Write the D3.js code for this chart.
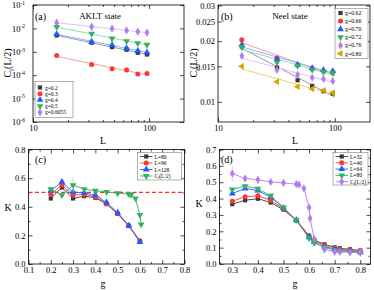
<!DOCTYPE html>
<html>
<head>
<meta charset="utf-8">
<script src="https://cdn.jsdelivr.net/npm/d3@7"></script>
<style>
  body { margin: 0; background: #fff; }
  text { font-family: "Liberation Serif", "Times New Roman", serif; fill: #000; }
</style>
</head>
<body>
<script>
// ---------- data ----------
// (a) AKLT state, C_l(L/2) vs L
const sizesA = [16, 32, 48, 64, 80, 96];
const labelsA = ["g=0.2", "g=0.3", "g=0.4", "g=0.5", "g=0.6055"];
const akltG02 = [0.0050, 0.00245, 0.00159, 0.00123, 0.00091, 0.00077];
const akltG03 = [0.00070, 0.000286, 0.000188, 0.000166, 0.000112, 0.000118];
const akltG04 = [0.0057, 0.0027, 0.00193, 0.00144, 0.00111, 0.00094];
const akltG05 = [0.0114, 0.0059, 0.0037, 0.00286, 0.00235, 0.00201];
const akltG06055 = [0.0175, 0.0118, 0.0097, 0.0082, 0.0072, 0.0066];

// (b) Neel state
const sizesB = [16, 32, 48, 64, 80, 96];
const labelsB = ["g=0.62", "g=0.66", "g=0.70", "g=0.72", "g=0.76", "g=0.80"];
const neelG062 = [0.0188, 0.0148, 0.0128, 0.0120, 0.0113, 0.0110];
const neelG066 = [0.0203, 0.0165, 0.0152, 0.0146, 0.0142, 0.0140];
const neelG070 = [0.0192, 0.0163, 0.0153, 0.0147, 0.0144, 0.0142];
const neelG072 = [0.0187, 0.0157, 0.0151, 0.0144, 0.0141, 0.0139];
const neelG076 = [0.0169, 0.0144, 0.0136, 0.0132, 0.0130, 0.0127];
const neelG080 = [0.0150, 0.0126, 0.0119, 0.0116, 0.0114, 0.0111];

// (c) K vs g, AKLT side
const gC = [0.2, 0.25, 0.3, 0.35, 0.4, 0.45, 0.5, 0.55, 0.6];
const kcL80 = [0.458, 0.535, 0.458, 0.474, 0.463, 0.419, 0.351, 0.267, 0.158];
const kcL96 = [0.488, 0.551, 0.481, 0.486, 0.470, 0.421, 0.353, 0.267, 0.163];
const kcL128 = [0.512, 0.574, 0.502, 0.498, 0.481, 0.430, 0.358, 0.268, 0.153];
const gCc = [0.2, 0.25, 0.3, 0.35, 0.4, 0.45, 0.5, 0.55, 0.56, 0.58, 0.6, 0.6055];
const kcCl = [0.523, 0.481, 0.551, 0.523, 0.512, 0.503, 0.495, 0.488, 0.484, 0.458, 0.343, 0.277];
const kcClErr = [0, 0, 0.05, 0, 0, 0, 0, 0, 0, 0, 0, 0];

// (d) K vs g, Neel side
const gD = [0.3, 0.35, 0.4, 0.45, 0.5, 0.55, 0.6, 0.62, 0.66, 0.7, 0.72, 0.76, 0.8];
const kdL32 = [0.366, 0.390, 0.399, 0.376, 0.332, 0.268, 0.173, 0.146, 0.120, 0.102, 0.096, 0.090, 0.082];
const kdL40 = [0.384, 0.411, 0.417, 0.390, 0.336, 0.268, 0.171, 0.146, 0.116, 0.100, 0.092, 0.087, 0.080];
const kdL64 = [0.431, 0.462, 0.449, 0.409, 0.342, 0.268, 0.163, 0.136, 0.106, 0.092, 0.083, 0.079, 0.072];
const kdL80 = [0.456, 0.476, 0.460, 0.417, 0.346, 0.268, 0.157, 0.130, 0.102, 0.085, 0.079, 0.075, 0.068];
const gDc = [0.3, 0.35, 0.4, 0.45, 0.5, 0.55, 0.56, 0.58, 0.6, 0.604, 0.62, 0.66, 0.7, 0.72, 0.76, 0.8];
const kdCl = [0.553, 0.523, 0.515, 0.502, 0.496, 0.488, 0.486, 0.462, 0.346, 0.279, 0.153, 0.089, 0.075, 0.075, 0.071, 0.073];
const kdClErr = [0.05, 0, 0, 0, 0, 0, 0, 0, 0, 0, 0, 0, 0, 0, 0, 0];

// ---------- styles ----------
const col = {
  black: "#3a3a3a", red: "#ff3636", blue: "#1f5cff",
  green: "#2fb35f", purple: "#b37cf2", gold: "#d9a400"
};
const fitCol = {
  black: "#9a9a9a", red: "#ff9d9d", blue: "#8fb0ff",
  green: "#95dcae", purple: "#dcc4fa", gold: "#ecd27a"
};
const shapes = {
  square: { type: d3.symbolSquare, size: 18, rot: 0 },
  circle: { type: d3.symbolCircle, size: 20, rot: 0 },
  up: { type: d3.symbolTriangle, size: 20, rot: 0 },
  down: { type: d3.symbolTriangle, size: 20, rot: 180 },
  diamond: { type: d3.symbolDiamond, size: 20, rot: 0 },
  left: { type: d3.symbolTriangle, size: 20, rot: -90 }
};

const svg = d3.select("body").append("svg").attr("width", 374).attr("height", 290);

function marker(g, x, y, shape, color) {
  let s = shapes[shape];
  g.append("path")
    .attr("d", d3.symbol().type(s.type).size(s.size)())
    .attr("transform", `translate(${x},${y}) rotate(${s.rot})`)
    .attr("fill", color);
}

function frame(x, y) {
  let [x0, x1] = x.range();
  let [y0, y1] = y.range();
  svg.append("rect")
    .attr("x", x0).attr("y", y1)
    .attr("width", x1 - x0).attr("height", y0 - y1)
    .attr("fill", "none").attr("stroke", "#000").attr("stroke-width", 0.8);
}

function ticks(x, y, xMajor, xMinor, yMajor, yMinor, xFmt, yFmt) {
  let [x0, x1] = x.range();
  let [y0, y1] = y.range();
  let fixAxis = (g) => {
    g.select(".domain").remove();
    g.selectAll("line").attr("stroke", "#000").attr("stroke-width", 0.7);
    g.selectAll("text").style("font-family", '"Liberation Serif", serif').style("font-size", "8.5px");
  };
  svg.append("g").attr("transform", `translate(0,${y0})`)
    .call(d3.axisBottom(x).tickValues(xMajor).tickSize(-4).tickPadding(3).tickFormat(xFmt)).call(fixAxis);
  svg.append("g").attr("transform", `translate(0,${y0})`)
    .call(d3.axisBottom(x).tickValues(xMinor).tickSize(-2).tickFormat("")).call(fixAxis);
  svg.append("g").attr("transform", `translate(0,${y1})`)
    .call(d3.axisTop(x).tickValues(xMajor).tickSize(-4).tickFormat("")).call(fixAxis);
  svg.append("g").attr("transform", `translate(0,${y1})`)
    .call(d3.axisTop(x).tickValues(xMinor).tickSize(-2).tickFormat("")).call(fixAxis);
  let ly = svg.append("g").attr("transform", `translate(${x0},0)`)
    .call(d3.axisLeft(y).tickValues(yMajor).tickSize(-4).tickPadding(3).tickFormat(yFmt)).call(fixAxis);
  svg.append("g").attr("transform", `translate(${x0},0)`)
    .call(d3.axisLeft(y).tickValues(yMinor).tickSize(-2).tickFormat("")).call(fixAxis);
  svg.append("g").attr("transform", `translate(${x1},0)`)
    .call(d3.axisRight(y).tickValues(yMajor).tickSize(-4).tickFormat("")).call(fixAxis);
  svg.append("g").attr("transform", `translate(${x1},0)`)
    .call(d3.axisRight(y).tickValues(yMinor).tickSize(-2).tickFormat("")).call(fixAxis);
  return ly;
}

function clLabel(sel, size) {
  sel.append("tspan").text("C");
  sel.append("tspan").text("l").attr("font-size", size * 0.7).attr("dy", size * 0.25);
  sel.append("tspan").text("(L/2)").attr("dy", -size * 0.25);
}

function yTitle(x, y, size, fn) {
  let t = svg.append("text").attr("transform", `translate(${x},${y}) rotate(-90)`)
    .attr("text-anchor", "middle").attr("font-size", size);
  fn(t);
}

function fitLine(xs, ys) {
  let lx = xs.map(Math.log10), ly = ys.map(Math.log10);
  let mx = d3.mean(lx), my = d3.mean(ly);
  let slope = d3.sum(lx, (v, i) => (v - mx) * (ly[i] - my)) / d3.sum(lx, (v) => (v - mx) * (v - mx));
  let b = my - slope * mx;
  return (L) => Math.pow(10, b + slope * Math.log10(L));
}

// ---------- panel (a) ----------
let xA = d3.scaleLog().domain([10, 200]).range([33, 184]);
let yA = d3.scaleLog().domain([1e-6, 1e-1]).range([122, 5]);
let seriesA = [
  [akltG02, "black", "square"], [akltG03, "red", "circle"], [akltG04, "blue", "up"],
  [akltG05, "green", "down"], [akltG06055, "purple", "diamond"]
];
let minorL = [20, 30, 40, 50, 60, 70, 80, 90];
let yAx = ticks(xA, yA, [10, 100], minorL, [1e-1, 1e-2, 1e-3, 1e-4, 1e-5, 1e-6], [], (d) => d, () => "10");
yAx.selectAll(".tick text").each(function (d) {
  d3.select(this).append("tspan").text(Math.round(Math.log10(d)))
    .attr("dy", -3.5).attr("font-size", 5.5);
}).attr("dx", -5);
frame(xA, yA);
let gA = svg.append("g");
seriesA.forEach(([vals, c]) => {
  let f = fitLine(sizesA, vals);
  gA.append("line").attr("x1", xA(16)).attr("y1", yA(f(16)))
    .attr("x2", xA(100)).attr("y2", yA(f(100)))
    .attr("stroke", fitCol[c]).attr("stroke-width", 1);
});
seriesA.forEach(([vals, c, s]) => {
  vals.forEach((v, i) => marker(gA, xA(sizesA[i]), yA(v), s, col[c]));
});
svg.append("text").attr("x", 35).attr("y", 20).attr("font-size", 10).text("(a)");
svg.append("text").attr("x", 100).attr("y", 19).attr("font-size", 9).attr("text-anchor", "middle").text("AKLT state");
// legend (a)
svg.append("rect").attr("x", 35).attr("y", 81.5).attr("width", 38).attr("height", 36)
  .attr("fill", "#fff").attr("stroke", "#666").attr("stroke-width", 0.5);
seriesA.forEach(([vals, c, s], i) => {
  let yy = 87.5 + i * 6.2;
  marker(svg, 40, yy, s, col[c]);
  svg.append("text").attr("x", 45).attr("y", yy + 2).attr("font-size", 5.5).text(labelsA[i]);
});
svg.append("text").attr("x", 103).attr("y", 144).attr("font-size", 10).attr("text-anchor", "middle").text("L");
yTitle(11, 63, 10, (t) => clLabel(t, 10));

// ---------- panel (b) ----------
let xB = d3.scaleLog().domain([10, 200]).range([218, 370]);
let yB = d3.scaleLog().domain([0.00795, 0.0302]).range([122, 5]);
let seriesB = [
  [neelG062, "black", "square"], [neelG066, "red", "circle"], [neelG070, "blue", "up"],
  [neelG072, "green", "down"], [neelG076, "purple", "diamond"], [neelG080, "gold", "left"]
];
ticks(xB, yB, [10, 100], minorL, [0.01, 0.015, 0.02, 0.025, 0.03], [], (d) => d, (d) => String(d));
frame(xB, yB);
let gB = svg.append("g");
seriesB.forEach(([vals, c]) => {
  let f = fitLine(sizesB, vals);
  gB.append("line").attr("x1", xB(16)).attr("y1", yB(f(16)))
    .attr("x2", xB(100)).attr("y2", yB(f(100)))
    .attr("stroke", fitCol[c]).attr("stroke-width", 1);
});
seriesB.forEach(([vals, c, s]) => {
  vals.forEach((v, i) => marker(gB, xB(sizesB[i]), yB(v), s, col[c]));
});
svg.append("text").attr("x", 221).attr("y", 20).attr("font-size", 10).text("(b)");
svg.append("text").attr("x", 290).attr("y", 19).attr("font-size", 9).attr("text-anchor", "middle").text("Neel state");
svg.append("rect").attr("x", 335).attr("y", 8.5).attr("width", 33).attr("height", 50)
  .attr("fill", "#fff").attr("stroke", "#666").attr("stroke-width", 0.5);
seriesB.forEach(([vals, c, s], i) => {
  let yy = 13 + i * 8.1;
  marker(svg, 340.5, yy, s, col[c]);
  svg.append("text").attr("x", 345).attr("y", yy + 2).attr("font-size", 5.8).text(labelsB[i]);
});
svg.append("text").attr("x", 295).attr("y", 144).attr("font-size", 10).attr("text-anchor", "middle").text("L");
yTitle(197, 63, 10, (t) => clLabel(t, 10));

// ---------- panel (c) / (d) helper ----------
function kPanel(x, y, series, legend) {
  let g = svg.append("g");
  series.forEach(([xs, vals, c, s, err]) => {
    if (err) {
      vals.forEach((v, i) => {
        if (err[i] > 0) {
          g.append("line").attr("x1", x(xs[i])).attr("x2", x(xs[i]))
            .attr("y1", y(v - err[i])).attr("y2", y(v + err[i]))
            .attr("stroke", fitCol[c]).attr("stroke-width", 0.8);
        }
      });
    }
    g.append("path")
      .attr("d", d3.line().x((d, i) => x(xs[i])).y((d) => y(d))(vals))
      .attr("fill", "none").attr("stroke", col[c]).attr("stroke-width", 0.9);
    vals.forEach((v, i) => marker(g, x(xs[i]), y(v), s, col[c]));
  });
  let [lx, ly, lw, lh, step] = legend.box;
  svg.append("rect").attr("x", lx).attr("y", ly).attr("width", lw).attr("height", lh)
    .attr("fill", "#fff").attr("stroke", "#666").attr("stroke-width", 0.5);
  series.forEach(([xs, vals, c, s], i) => {
    let yy = ly + 4 + i * step;
    svg.append("line").attr("x1", lx + 2.5).attr("x2", lx + 15).attr("y1", yy).attr("y2", yy)
      .attr("stroke", col[c]).attr("stroke-width", 0.9);
    marker(svg, lx + 8.75, yy, s, col[c]);
    let t = svg.append("text").attr("x", lx + 17).attr("y", yy + 2).attr("font-size", 5.5);
    if (legend.labels[i] === "Cl") clLabel(t, 5.5);
    else t.text(legend.labels[i]);
  });
}

// ---------- panel (c) ----------
let xC = d3.scaleLinear().domain([0.1, 0.8]).range([28.5, 184.5]);
let yC = d3.scaleLinear().domain([0, 0.8]).range([264, 149.5]);
ticks(xC, yC, d3.range(0.1, 0.81, 0.1), d3.range(0.15, 0.8, 0.1),
  d3.range(0, 0.81, 0.2), d3.range(0.1, 0.8, 0.2), d3.format(".1f"), d3.format(".1f"));
frame(xC, yC);
svg.append("line").attr("x1", xC(0.1)).attr("x2", xC(0.8)).attr("y1", yC(0.5)).attr("y2", yC(0.5))
  .attr("stroke", "#ff2a2a").attr("stroke-width", 1.2).attr("stroke-dasharray", "4,2.5");
kPanel(xC, yC, [
  [gC, kcL80, "black", "square"],
  [gC, kcL96, "red", "circle"],
  [gC, kcL128, "blue", "up"],
  [gCc, kcCl, "green", "down", kcClErr]
], { box: [137.5, 152.5, 44, 27.5, 6.5], labels: ["L=80", "L=96", "L=128", "Cl"] });
svg.append("text").attr("x", 35).attr("y", 163).attr("font-size", 10).text("(c)");
svg.append("text").attr("x", 103).attr("y", 287).attr("font-size", 10).attr("text-anchor", "middle").text("g");
svg.append("text").attr("x", 8).attr("y", 211).attr("font-size", 10).attr("text-anchor", "middle").text("K");

// ---------- panel (d) ----------
let xD = d3.scaleLinear().domain([0.25, 0.84]).range([219.5, 370.5]);
let yD = d3.scaleLinear().domain([0, 0.7]).range([264, 149.5]);
ticks(xD, yD, d3.range(0.3, 0.81, 0.1), d3.range(0.25, 0.84, 0.1).map((v) => +v.toFixed(2)),
  d3.range(0, 0.71, 0.1), d3.range(0.05, 0.7, 0.1), d3.format(".1f"), d3.format(".1f"));
frame(xD, yD);
kPanel(xD, yD, [
  [gD, kdL32, "black", "square"],
  [gD, kdL40, "red", "circle"],
  [gD, kdL64, "blue", "up"],
  [gD, kdL80, "green", "down"],
  [gDc, kdCl, "purple", "diamond", kdClErr]
], { box: [333, 152.5, 35, 32.5, 6.3], labels: ["L=32", "L=40", "L=64", "L=80", "Cl"] });
svg.append("text").attr("x", 221).attr("y", 163).attr("font-size", 10).text("(d)");
svg.append("text").attr("x", 295).attr("y", 287).attr("font-size", 10).attr("text-anchor", "middle").text("g");
svg.append("text").attr("x", 199).attr("y", 207).attr("font-size", 10).attr("text-anchor", "middle").text("K");
</script>
</body>
</html>
